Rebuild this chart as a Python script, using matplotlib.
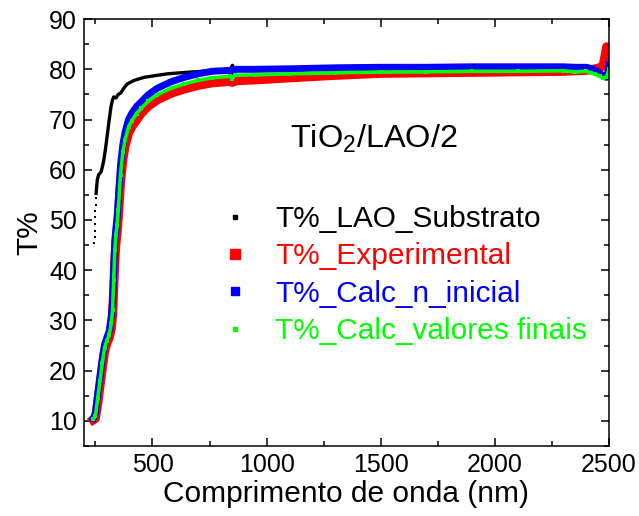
import matplotlib
matplotlib.use("Agg")
import matplotlib.pyplot as plt
from matplotlib.lines import Line2D

plt.rcParams['font.family'] = ['Liberation Sans', 'DejaVu Sans']
plt.rcParams['mathtext.default'] = 'regular'

# --- substrate spectrum ---
lam_sub = [245, 246, 247, 248, 249, 250, 251, 252, 253, 258, 264, 274, 280, 287, 295,
           302, 310, 318, 324, 330, 340, 350, 361, 375, 390, 420, 463, 520, 565, 620,
           682, 760, 840, 850, 860, 1000, 1500, 2000, 2400, 2500]
t_sub = [45.4, 46.6, 47.9, 49.2, 50.5, 51.8, 53.0, 54.3, 55.3, 58.0, 59.0, 59.5, 60.5, 62.0, 64.5,
         67.0, 69.8, 72.5, 73.8, 74.5, 74.3, 75.0, 75.3, 76.3, 77.1, 77.8, 78.4, 78.8, 79.1, 79.3,
         79.5, 79.7, 79.8, 80.8, 79.9, 80.0, 80.1, 80.1, 80.2, 80.2]

# --- film spectra (shared wavelength grid) ---
lam = [240, 250, 260, 270, 280, 290, 300, 310, 320, 325, 330, 335, 340, 345, 350,
       360, 370, 380, 395, 410, 430, 450, 480, 520, 580, 640, 700, 760, 840, 850,
       860, 950, 1100, 1300, 1500, 1700, 1900, 2100, 2300, 2350, 2400, 2420, 2440,
       2460, 2475, 2490, 2500]

t_exp = [10.2, 10.5, 13.5, 17.0, 20.5, 23.8, 25.5, 26.5, 28.5, 31.0, 36.0, 42.0, 45.5, 47.5, 50.5,
         57.5, 62.0, 64.8, 67.3, 68.6, 69.9, 71.2, 72.6, 73.9, 75.2, 76.1, 76.8, 77.3, 77.6, 77.4,
         77.7, 77.9, 78.3, 78.8, 79.2, 79.3, 79.4, 79.5, 79.6, 79.7, 79.8, 79.9, 80.1,
         80.3, 80.8, 84.5, 81.0]

t_calc_ini = [10.5, 11.5, 15.5, 19.0, 22.5, 25.2, 26.6, 27.8, 31.0, 34.0, 40.0, 46.0, 48.5, 50.5, 54.0,
              61.0, 65.0, 67.5, 70.0, 71.3, 72.6, 73.5, 74.9, 76.2, 77.5, 78.4, 79.1, 79.6, 79.8, 79.5,
              80.0, 80.0, 80.1, 80.3, 80.4, 80.4, 80.5, 80.5, 80.5, 80.4, 80.4, 80.2, 79.8,
              79.2, 78.6, 78.4, 80.8]

t_calc_fin = [10.3, 11.0, 14.5, 18.0, 21.5, 24.5, 26.0, 27.0, 29.5, 32.0, 38.0, 44.0, 47.0, 49.0, 52.0,
              59.0, 63.5, 66.0, 68.5, 69.8, 71.2, 72.2, 73.6, 74.9, 76.2, 77.1, 77.8, 78.3, 78.6, 78.1,
              78.8, 78.9, 79.1, 79.3, 79.45, 79.5, 79.6, 79.6, 79.7, 79.5, 79.6, 79.3, 79.0,
              78.6, 78.3, 78.5, 80.0]

labels = ['T%_LAO_Substrato', 'T%_Experimental', 'T%_Calc_n_inicial', 'T%_Calc_valores finais']
colors = ['black', '#ff0000', '#0000ff', '#00ff00']

fig = plt.figure(figsize=(6.39, 5.16), dpi=100)
ax = fig.add_axes([0.1315, 0.1357, 0.8215, 0.8273])

# substrate: sparse points at the edge, then a continuous trace
ax.plot(lam_sub[:9], t_sub[:9], 's', color='black', ms=2.0, mew=0)
ax.plot(lam_sub[8:], t_sub[8:], '-', color='black', lw=2.4, solid_joinstyle='round')

ax.plot(lam, t_exp, '-', color=colors[1], lw=6.5, solid_joinstyle='round')
ax.plot(lam, t_calc_ini, '-', color=colors[2], lw=5.0, solid_joinstyle='round')
ax.plot(lam, t_calc_fin, 's-', color=colors[3], lw=2.6, ms=2.6, mew=0, solid_joinstyle='round')

ax.set_xlim(200, 2500)
ax.set_ylim(5, 90)
ax.set_xticks([500, 1000, 1500, 2000, 2500])
ax.set_xticks([250, 750, 1250, 1750, 2250], minor=True)
ax.set_yticks(range(10, 91, 10))
ax.set_yticks(range(5, 90, 10), minor=True)
ax.tick_params(which='both', direction='in', top=True, right=True, width=1.1, labelsize=18, pad=5)
ax.tick_params(which='major', length=6)
ax.tick_params(which='minor', length=3.5)
for s in ax.spines.values():
    s.set_linewidth(1.1)

ax.set_xlabel('Comprimento de onda (nm)', fontsize=21.5, labelpad=2.5)
ax.set_ylabel('T%', fontsize=21.5, labelpad=4)

ax.text(0.552, 0.699, r'TiO$_2$/LAO/2', fontsize=23.4, ha='center', va='baseline',
        transform=ax.transAxes)

handles = [Line2D([0], [0], ls='none', marker='s', color=colors[0], ms=2.2),
           Line2D([0], [0], ls='none', marker='s', color=colors[1], ms=6.5),
           Line2D([0], [0], ls='none', marker='s', color=colors[2], ms=5.4),
           Line2D([0], [0], ls='none', marker='s', color=colors[3], ms=2.2)]
leg = ax.legend(handles, labels, loc='upper left', bbox_to_anchor=(0.236, 0.592),
                frameon=False, fontsize=21.5, labelspacing=0.31, handlelength=1.0,
                handletextpad=0.85, borderaxespad=0)
for txt, c in zip(leg.get_texts(), colors):
    txt.set_color(c)

fig.savefig('out.png', dpi=100)
